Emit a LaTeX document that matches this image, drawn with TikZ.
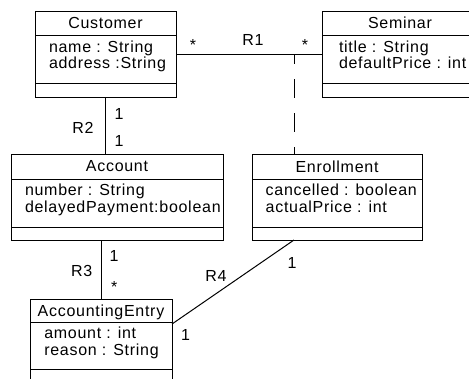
\documentclass[tikz,border=0pt]{standalone}
\usepackage{fontspec}
\setmainfont{Liberation Sans}[LetterSpace=4.5]
\begin{document}
\begin{tikzpicture}[x=1pt,y=-1pt,line width=1pt,
  every node/.style={font=\fontsize{16}{17}\selectfont, inner sep=0pt, outer sep=0pt},
  classbox/.style 2 args={draw, anchor=north west, minimum width=#1pt, minimum height=#2pt},
  ttl/.style={anchor=base},
  attr/.style={anchor=base west},
  lbl/.style={anchor=base},
  assocclass/.style={dash pattern=on 19pt off 15pt, dash phase=9pt}]
\useasboundingbox (0,0) rectangle (469,378);
\fill[white] (0,0) rectangle (469,378);
\clip (0,0) rectangle (469,378);

% class boxes
\node[classbox={141}{86}] (cust) at (35,11) {};
\node[classbox={156}{86}] (sem) at (322,11) {};
\node[classbox={212}{86}] (acc) at (11,154) {};
\node[classbox={170}{86}] (enr) at (252,154) {};
\node[classbox={142}{84}] (ae) at (30,299) {};

% compartments
\draw (cust.west |- 0,35) -- (cust.east |- 0,35);
\draw (cust.west |- 0,83) -- (cust.east |- 0,83);
\draw (sem.west |- 0,35) -- (sem.east |- 0,35);
\draw (sem.west |- 0,83) -- (sem.east |- 0,83);
\draw (acc.west |- 0,179) -- (acc.east |- 0,179);
\draw (acc.west |- 0,227) -- (acc.east |- 0,227);
\draw (enr.west |- 0,179) -- (enr.east |- 0,179);
\draw (enr.west |- 0,227) -- (enr.east |- 0,227);
\draw (ae.west |- 0,322) -- (ae.east |- 0,322);
\draw (ae.west |- 0,369) -- (ae.east |- 0,369);

% texts
\node[ttl] (custT) at (105.5,28.5) {Customer};
\node[attr] (custA1) at (49,52) {name : String};
\node[attr] (custA2) at (49,68.5) {address :String};

\node[ttl] (semT) at (400,28.5) {Seminar};
\node[attr] (semA1) at (339,52) {title : String};
\node[attr] (semA2) at (339,68.5) {defaultPrice : int};

\node[ttl] (accT) at (117,171.8) {Account};
\node[attr] (accA1) at (25,195.8) {number : String};
\node[attr] (accA2) at (25,212.3) {delayedPayment:boolean};

\node[ttl] (enrT) at (337,172) {Enrollment};
\node[attr] (enrA1) at (265.7,195.8) {cancelled : boolean};
\node[attr] (enrA2) at (265.7,212.3) {actualPrice : int};

\node[ttl] (aeT) at (101,316.3) {AccountingEntry};
\node[attr] (aeA1) at (44.3,338.5) {amount : int};
\node[attr] (aeA2) at (44.3,355) {reason : String};

% connectors
\coordinate (j) at (294,54);
\draw (cust.east) -- (sem.west);
\draw[assocclass] (j) -- (j |- enr.north);
\draw (cust.south) -- (cust.south |- acc.north);
\draw (ae.north |- acc.south) -- (ae.north);
\draw (ae.east |- 0,324) -- (j |- enr.south);

% labels
\node[lbl] (r1) at (253,45.7) {R1};
\node[lbl] (s1) at (193,50) {*};
\node[lbl] (s2) at (305,50) {*};
\node[lbl] (r2) at (83,133.3) {R2};
\node[lbl] (m1) at (119,119.3) {1};
\node[lbl] (m2) at (119,146) {1};
\node[lbl] (r3) at (81.7,276.7) {R3};
\node[lbl] (m3) at (114,261.7) {1};
\node[lbl] (s3) at (114.3,292.5) {*};
\node[lbl] (r4) at (216,281) {R4};
\node[lbl] (m4) at (185.5,340) {1};
\node[lbl] (m5) at (292,268.3) {1};
\end{tikzpicture}
\end{document}
